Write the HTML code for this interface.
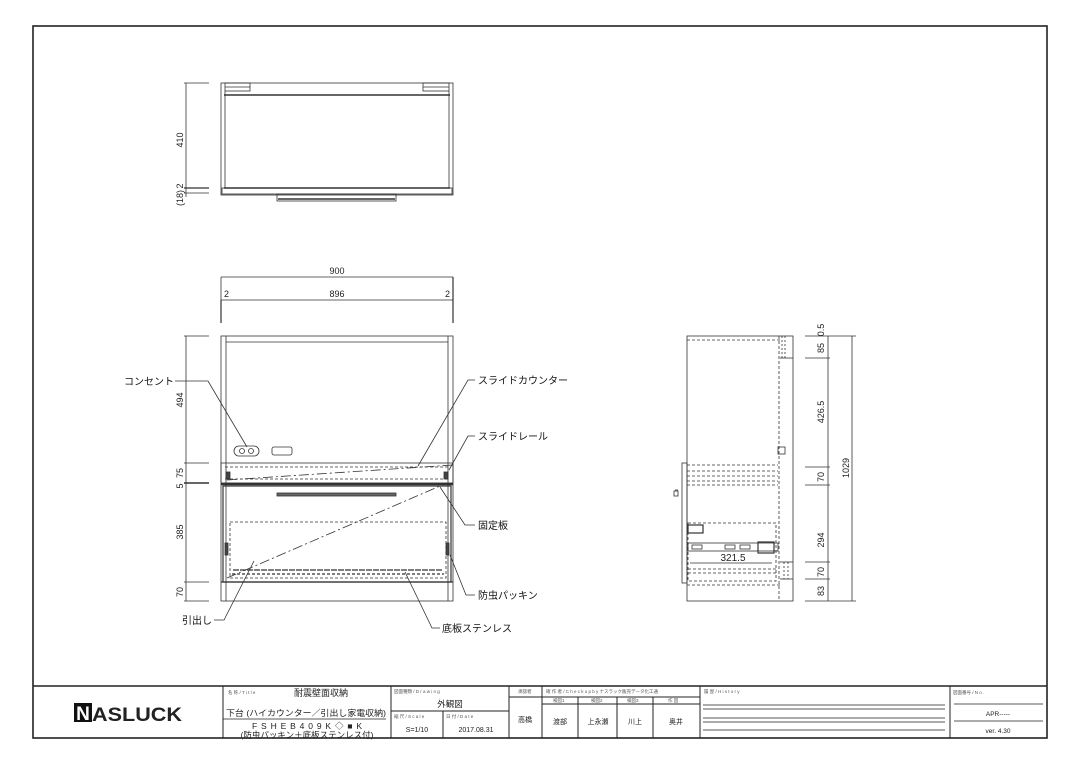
<!DOCTYPE html>
<html><head><meta charset="utf-8"><style>
html,body{margin:0;padding:0;background:#fff;}
svg{display:block;font-family:"Liberation Sans","Noto Sans CJK JP",sans-serif;}
</style></head><body>
<svg width="1080" height="764" viewBox="0 0 1080 764" xmlns="http://www.w3.org/2000/svg">
<rect width="1080" height="764" fill="#fff"/>
<rect x="33" y="26" width="1014" height="712" fill="none" stroke="#222" stroke-width="1.6"/>

<g stroke="#333" fill="none" stroke-width="0.8">
<rect x="221" y="83" width="232" height="112"/>
<rect x="225" y="83" width="25" height="8"/><line x1="225" y1="87" x2="250" y2="87"/>
<rect x="423" y="83" width="26" height="8"/><line x1="423" y1="87" x2="449" y2="87"/>
<line x1="224" y1="95" x2="450" y2="95" stroke-width="1.6"/>
<line x1="224" y1="188" x2="450" y2="188" stroke-width="1.6"/>
<line x1="225" y1="91" x2="225" y2="188"/><line x1="449" y1="91" x2="449" y2="188"/>
<rect x="222" y="188" width="230" height="6"/>
<rect x="277" y="194" width="119" height="7"/>
<line x1="278" y1="199" x2="395" y2="199" stroke-width="1.5"/>
<line x1="186" y1="83" x2="186" y2="197"/>
<line x1="184" y1="83" x2="209" y2="83"/><line x1="184" y1="188" x2="209" y2="188" stroke-width="1.3"/><line x1="184" y1="193" x2="209" y2="193"/>

<line x1="221" y1="277" x2="453" y2="277"/>
<line x1="221" y1="300" x2="453" y2="300"/>
<line x1="221" y1="300" x2="221" y2="323" stroke-width="1.2"/><line x1="453" y1="277" x2="453" y2="323" stroke-width="1.2"/>
<line x1="221" y1="277" x2="221" y2="300"/>

<rect x="221" y="336" width="232" height="265"/>
<line x1="226" y1="336" x2="226" y2="601"/><line x1="448" y1="336" x2="448" y2="601"/>
<line x1="226" y1="342" x2="448" y2="342"/>
<rect x="221" y="463" width="232" height="20"/>
<line x1="225" y1="467" x2="449" y2="467" stroke-dasharray="3,2"/>
<line x1="225" y1="479" x2="449" y2="479" stroke-dasharray="3,2"/>
<rect x="226" y="472" width="4" height="7" fill="#444"/><rect x="444" y="472" width="4" height="7" fill="#444"/>
<line x1="221" y1="484" x2="453" y2="484" stroke-width="2.4"/>
<rect x="223" y="486" width="228" height="96" stroke-width="1.2"/>
<rect x="277" y="493" width="119" height="3" fill="#666"/>
<rect x="230" y="522" width="216" height="56" stroke-dasharray="3,2"/>
<line x1="232" y1="574" x2="444" y2="574" stroke-dasharray="3,2" stroke-width="1.2"/>
<line x1="233" y1="570" x2="443" y2="570" stroke-dasharray="6,1" stroke-width="1.3"/>
<rect x="225" y="543" width="3" height="12" fill="#444"/><rect x="446" y="543" width="3" height="12" fill="#444"/>
<line x1="221" y1="582" x2="453" y2="582" stroke-width="1.3"/>
<rect x="234" y="446" width="25" height="10" rx="5"/>
<circle cx="242" cy="451" r="2.5"/><circle cx="251" cy="451" r="2.5"/>
<rect x="272" y="447" width="20" height="8" rx="2"/>
<line x1="227" y1="480" x2="453" y2="465" stroke-dasharray="10,3,2,3"/>
<line x1="227" y1="578" x2="440" y2="486" stroke-dasharray="10,3,2,3"/>
<line x1="186" y1="336" x2="186" y2="601"/>
<g><line x1="184" y1="336" x2="209" y2="336"/><line x1="184" y1="463" x2="209" y2="463"/><line x1="184" y1="483" x2="209" y2="483" stroke-width="1.5"/><line x1="184" y1="582" x2="209" y2="582"/><line x1="184" y1="601" x2="209" y2="601"/></g>
<polyline points="175,381 208,381 247,447"/>
<polyline points="475,380 468,380 418,466"/>
<polyline points="475,436 468,436 449,470"/>
<polyline points="475,525 465,525 440,487"/>
<polyline points="475,595 466,595 450,555"/>
<polyline points="214,620 224,620 254,561"/>
<polyline points="440,628 432,628 405,572"/>

<rect x="687" y="336" width="106" height="265"/>
<line x1="687" y1="340" x2="780" y2="340" stroke-dasharray="3,2"/>
<line x1="779" y1="336" x2="779" y2="601" stroke-dasharray="3,2"/>
<line x1="782" y1="336" x2="782" y2="358" stroke-dasharray="2,2"/><line x1="785" y1="336" x2="785" y2="358" stroke-dasharray="2,2"/>
<line x1="780" y1="358" x2="793" y2="358"/>
<rect x="778" y="447" width="7" height="7"/>
<line x1="687" y1="465" x2="778" y2="465" stroke-dasharray="3,2"/>
<line x1="687" y1="471" x2="778" y2="471" stroke-dasharray="3,2"/>
<line x1="687" y1="476" x2="778" y2="476" stroke-dasharray="3,2"/>
<line x1="687" y1="481" x2="778" y2="481" stroke-dasharray="3,2"/>
<line x1="687" y1="485" x2="778" y2="485" stroke-dasharray="3,2"/>
<rect x="682" y="463" width="5" height="120"/>
<line x1="675" y1="490" x2="678" y2="490"/><rect x="674" y="491" width="4" height="5"/>
<rect x="688" y="523" width="88" height="58" stroke-dasharray="3,2"/>
<rect x="688" y="525" width="15" height="8" stroke-width="1.2"/>
<rect x="688" y="543" width="90" height="8"/>
<rect x="692" y="545" width="10" height="4"/><rect x="725" y="545" width="10" height="4"/><rect x="740" y="545" width="10" height="4"/>
<rect x="758" y="542" width="16" height="11" stroke-width="1.2"/>
<line x1="690" y1="563" x2="772" y2="563"/>
<line x1="688" y1="569" x2="778" y2="569" stroke-dasharray="3,2"/>
<line x1="688" y1="573" x2="778" y2="573" stroke-dasharray="3,2"/>
<line x1="687" y1="585" x2="780" y2="585" stroke-dasharray="3,2"/>
<line x1="780" y1="562" x2="793" y2="562"/><line x1="780" y1="579" x2="793" y2="579"/>
<line x1="784" y1="562" x2="784" y2="579" stroke-dasharray="2,2"/><line x1="788" y1="562" x2="788" y2="579" stroke-dasharray="2,2"/>
<line x1="828" y1="336" x2="828" y2="601"/><line x1="852" y1="336" x2="852" y2="601"/>
<line x1="805" y1="336" x2="856" y2="336"/><line x1="805" y1="358" x2="830" y2="358"/><line x1="805" y1="467" x2="830" y2="467"/><line x1="805" y1="485" x2="830" y2="485"/><line x1="805" y1="562" x2="830" y2="562"/><line x1="805" y1="579" x2="830" y2="579"/><line x1="805" y1="601" x2="856" y2="601"/>
</g>

<g font-size="9" fill="#222">
<text transform="translate(183,140) rotate(-90)" text-anchor="middle">410</text>
<text transform="translate(183,186) rotate(-90)" text-anchor="middle">2</text>
<text transform="translate(183,198) rotate(-90)" text-anchor="middle">(18)</text>
<text x="337" y="274" text-anchor="middle">900</text>
<text x="337" y="297" text-anchor="middle">896</text>
<text x="224" y="297">2</text><text x="445" y="297">2</text>
<text transform="translate(183,400) rotate(-90)" text-anchor="middle">494</text>
<text transform="translate(183,473) rotate(-90)" text-anchor="middle">75</text>
<text transform="translate(183,486) rotate(-90)" text-anchor="middle">5</text>
<text transform="translate(183,532) rotate(-90)" text-anchor="middle">385</text>
<text transform="translate(183,592) rotate(-90)" text-anchor="middle">70</text>
<text transform="translate(824,330) rotate(-90)" text-anchor="middle">0.5</text>
<text transform="translate(824,348) rotate(-90)" text-anchor="middle">85</text>
<text transform="translate(824,412) rotate(-90)" text-anchor="middle">426.5</text>
<text transform="translate(824,477) rotate(-90)" text-anchor="middle">70</text>
<text transform="translate(824,540) rotate(-90)" text-anchor="middle">294</text>
<text transform="translate(824,572) rotate(-90)" text-anchor="middle">70</text>
<text transform="translate(824,591) rotate(-90)" text-anchor="middle">83</text>
<text transform="translate(849,468) rotate(-90)" text-anchor="middle">1029</text>
<text x="733" y="561" text-anchor="middle" font-size="10">321.5</text>
</g>
<g font-size="10" fill="#111">
<text x="174" y="385" text-anchor="end">コンセント</text>
<text x="478" y="384">スライドカウンター</text>
<text x="478" y="440">スライドレール</text>
<text x="478" y="529">固定板</text>
<text x="478" y="599">防虫パッキン</text>
<text x="212" y="624" text-anchor="end">引出し</text>
<text x="442" y="632">底板ステンレス</text>
</g>

<g stroke="#222" fill="none" stroke-width="1">
<line x1="33" y1="686" x2="1047" y2="686" stroke-width="1.4"/>
<line x1="223" y1="686" x2="223" y2="738"/>
<line x1="391" y1="686" x2="391" y2="738"/>
<line x1="509" y1="686" x2="509" y2="738"/>
<line x1="542" y1="686" x2="542" y2="738"/>
<line x1="700" y1="686" x2="700" y2="738"/>
<line x1="950" y1="686" x2="950" y2="738"/>
<line x1="391" y1="711" x2="509" y2="711"/>
<line x1="443" y1="711" x2="443" y2="738"/>
<line x1="509" y1="697" x2="700" y2="697"/>
<line x1="542" y1="704" x2="700" y2="704"/>
<line x1="578" y1="697" x2="578" y2="738"/><line x1="617" y1="697" x2="617" y2="738"/><line x1="653" y1="697" x2="653" y2="738"/>
<line x1="223" y1="719" x2="386" y2="719" stroke-width="0.7"/>
<line x1="703" y1="705" x2="945" y2="705" stroke-width="0.7"/><line x1="703" y1="709" x2="945" y2="709" stroke-width="0.7"/>
<line x1="703" y1="718" x2="945" y2="718" stroke-width="0.7"/><line x1="703" y1="722" x2="945" y2="722" stroke-width="0.7"/>
<line x1="703" y1="730" x2="945" y2="730" stroke-width="0.7"/>
<line x1="954" y1="704" x2="1043" y2="704" stroke-width="0.8"/><line x1="954" y1="721" x2="1043" y2="721" stroke-width="0.8"/>
</g>
<g fill="#222">
<rect x="74" y="703" width="18" height="19" fill="#111"/>
<text x="83" y="720" text-anchor="middle" font-size="19" font-weight="bold" fill="#fff">N</text>
<text x="92" y="721" font-size="19" font-weight="bold" textLength="90" lengthAdjust="spacingAndGlyphs">ASLUCK</text>
<g font-size="4.5" fill="#555">
<text x="228" y="694">名 称 / T i t l e</text>
<text x="394" y="693">図面種類 / D r a w i n g</text>
<text x="394" y="718">縮 尺 / S c a l e</text>
<text x="446" y="718">日 付 / D a t e</text>
<text x="518" y="693">承認者</text>
<text x="546" y="693">確 作 者 / C h e c k  u p  b y  ナスラック販売データ化工通</text>
<text x="704" y="693">履 歴 / H i s t o r y</text>
<text x="553" y="702">検図1</text><text x="591" y="702">検図2</text><text x="627" y="702">検図3</text><text x="668" y="702">作 図</text>
<text x="953" y="694">図面番号 / N o .</text>
</g>
<text x="294" y="696" font-size="9">耐震壁面収納</text>
<text x="226" y="716" font-size="8.5" textLength="160" lengthAdjust="spacingAndGlyphs">下台 (ハイカウンター／引出し家電収納)</text>
<text x="252" y="729" font-size="8.5" textLength="110" lengthAdjust="spacing">FSHEB409K◇■K</text>
<text x="307" y="738" font-size="8.5" text-anchor="middle">(防虫パッキン＋底板ステンレス付)</text>
<text x="450" y="707" font-size="8.5" text-anchor="middle">外観図</text>
<text x="417" y="732" font-size="7" text-anchor="middle">S=1/10</text>
<text x="476" y="732" font-size="7" text-anchor="middle">2017.08.31</text>
<text x="525" y="722" font-size="7" text-anchor="middle">高橋</text>
<text x="560" y="724" font-size="7" text-anchor="middle">渡部</text>
<text x="598" y="724" font-size="7" text-anchor="middle">上永瀬</text>
<text x="635" y="724" font-size="7" text-anchor="middle">川上</text>
<text x="676" y="724" font-size="7" text-anchor="middle">奥井</text>
<text x="998" y="716" font-size="6.5" text-anchor="middle">APR-----</text>
<text x="998" y="733" font-size="6.5" text-anchor="middle">ver. 4.30</text>
</g>
</svg>
</body></html>
